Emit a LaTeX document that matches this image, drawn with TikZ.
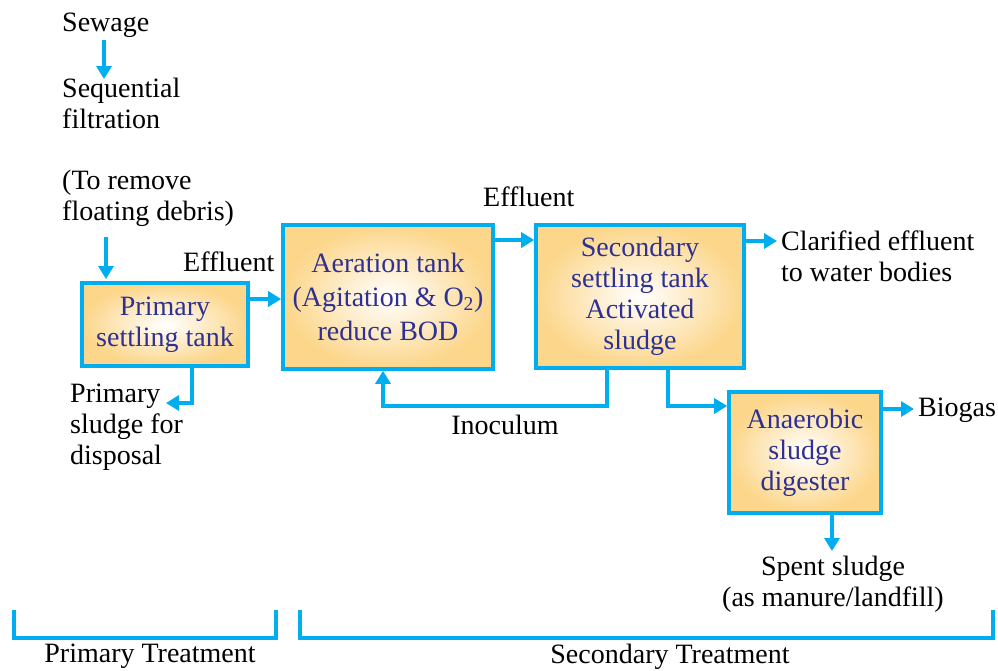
\documentclass[tikz,border=0pt]{standalone}
\usepackage{fontspec}
\setmainfont{Liberation Serif}
\usetikzlibrary{arrows.meta}
\definecolor{cy}{HTML}{00AEEF}
\definecolor{bt}{HTML}{2E3192}
\definecolor{bo}{HTML}{FCD68A}
\tikzset{
  tank/.style={draw=cy, line width=3.6pt, inner color=white, outer color=bo,
    text=bt, align=center, font=\fontsize{28}{31}\selectfont, inner sep=0pt},
  lbl/.style={text=black, align=left, font=\fontsize{28}{31}\selectfont, inner sep=0pt},
  arr/.style={draw=cy, line width=3.4pt, -{Triangle[length=13pt,width=15pt]}},
  ln/.style={draw=cy, line width=3.4pt},
}
\begin{document}
\begin{tikzpicture}[x=1pt,y=-1pt]
\useasboundingbox (0,0) rectangle (998,670);
% tanks
\node[tank, minimum width=166pt, minimum height=83pt] (pst) at (165,324.5) {Primary\\settling tank};
\node[tank, minimum width=210pt, minimum height=144pt, font=\fontsize{28}{34}\selectfont] (aer) at (388,297) {Aeration tank\\(Agitation \& O\textsubscript{2})\\reduce BOD};
\node[tank, minimum width=208pt, minimum height=143pt] (sst) at (640,296.5) {Secondary\\settling tank\\Activated\\sludge};
\node[tank, minimum width=152pt, minimum height=121pt] (ana) at (805,452.5) {Anaerobic\\sludge\\digester};
% labels
\node[lbl, anchor=west] (sew) at (62,25) {Sewage};
\node[lbl, anchor=west] (seq) at (62,103) {Sequential\\filtration};
\node[lbl, anchor=west] (rem) at (62,198) {(To remove\\floating debris)};
\node[lbl, anchor=west] (eff1) at (183,262) {Effluent};
\node[lbl, anchor=west] (eff2) at (483,197) {Effluent};
\node[lbl, anchor=west] (psd) at (70,427) {Primary\\sludge for\\disposal};
\node[lbl] (ino) at (505,425) {Inoculum};
\node[lbl, anchor=west] (cla) at (781,256) {Clarified effluent\\to water bodies};
\node[lbl, anchor=west] (bio) at (918,410) {Biogas};
\node[lbl, align=center] (spe) at (833,584) {Spent sludge\\(as manure/landfill)};
\node[lbl] (ptr) at (150,656) {Primary Treatment};
\node[lbl] (str) at (670,657) {Secondary Treatment};
% connectors
\draw[arr] (104,40) -- (104,79);
\draw[arr] (106,237) -- (106,279);
\draw[arr] (pst.east |- 0,299) -- (aer.west |- 0,299);
\draw[arr] (pst.south -| 192,0) |- (166,403);
\draw[arr] (aer.east |- 0,240) -- (sst.west |- 0,240);
\draw[arr] (sst.east |- 0,241) -- (777,241);
\draw[arr] (sst.south -| 607,0) -- (607,406) -| (aer.south -| 383,0);
\draw[arr] (sst.south -| 668,0) |- (ana.west |- 0,406);
\draw[arr] (ana.east |- 0,409) -- (914,409);
\draw[arr] (ana.south -| 832,0) -- (832,551);
% brackets
\draw[ln] (14,610) -- (14,638) -- (276,638) -- (276,610);
\draw[ln] (300,610) -- (300,638) -- (993,638) -- (993,610);
\end{tikzpicture}
\end{document}
